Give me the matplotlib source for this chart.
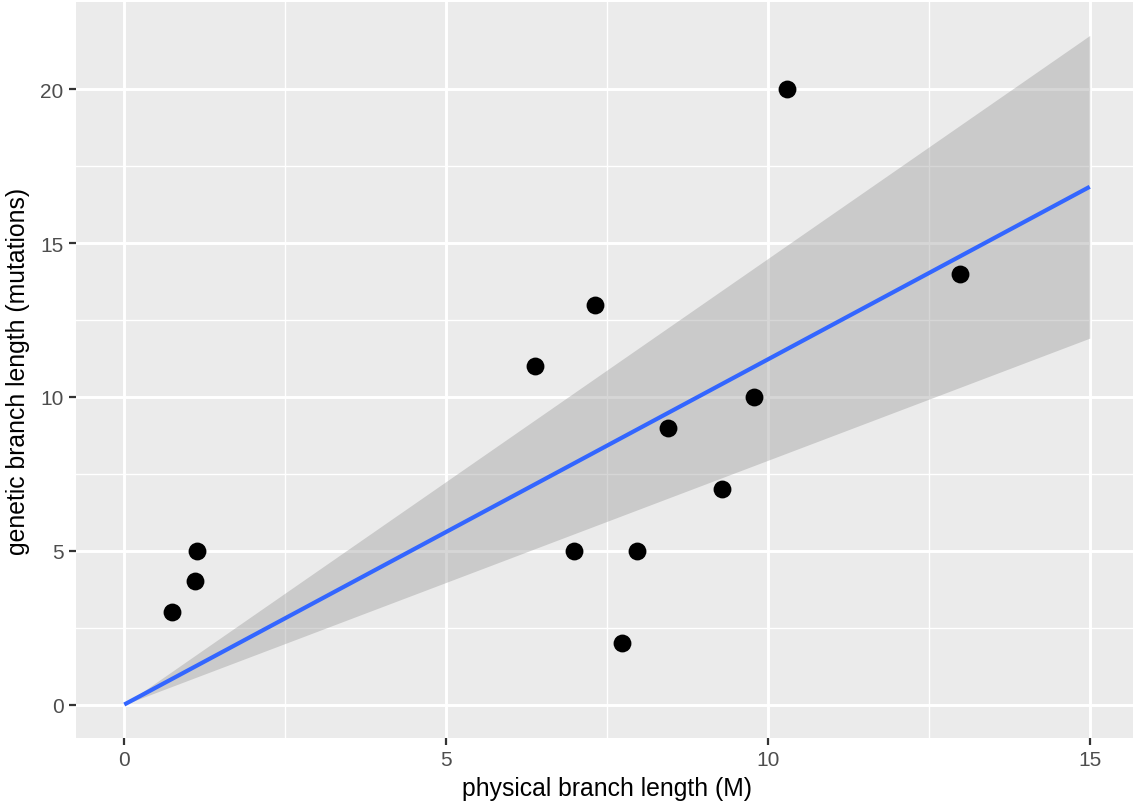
import numpy as np
import matplotlib
matplotlib.use("Agg")
import matplotlib.pyplot as plt

# Observed branch lengths
physical_length = [0.745, 1.10, 1.13, 6.38, 7.31, 6.99, 7.73, 7.97, 8.45, 9.29, 9.78, 10.30, 12.98]
genetic_length = [3, 4, 5, 11, 13, 5, 2, 5, 9, 7, 10, 20, 14]

x_ticks = [0, 5, 10, 15]
y_ticks = [0, 5, 10, 15, 20]

x = np.array(physical_length, dtype=float)
y = np.array(genetic_length, dtype=float)

# Linear fit through the origin (y ~ 0 + x) with 95% confidence band
slope = np.sum(x * y) / np.sum(x * x)
resid = y - slope * x
n = len(x)
s2 = np.sum(resid ** 2) / (n - 1)
se_slope = np.sqrt(s2 / np.sum(x * x))
t_crit = 2.178813  # t quantile, 0.975, df = 12

xs = np.linspace(0, 15, 200)
fit = slope * xs
band = t_crit * se_slope * xs

plt.rcParams["font.family"] = ["Liberation Sans", "DejaVu Sans"]

fig = plt.figure(figsize=(11.33, 8.03), dpi=100)
ax = fig.add_axes([76 / 1133, 1 - 739 / 803, (1138 - 76) / 1133, (739 - 3) / 803])
ax.set_facecolor("#EBEBEB")

ax.set_xlim(-0.75, 15.75)
ymax = (slope + t_crit * se_slope) * 15
ax.set_ylim(-0.05 * ymax, ymax * 1.05)

ax.set_xticks(x_ticks)
ax.set_yticks(y_ticks)
ax.set_xticks([2.5, 7.5, 12.5], minor=True)
ax.set_yticks([2.5, 7.5, 12.5, 17.5], minor=True)
ax.grid(which="major", color="white", linewidth=2.1)
ax.grid(which="minor", color="white", linewidth=1.0)
ax.set_axisbelow(True)

for sp in ax.spines.values():
    sp.set_visible(False)

ax.tick_params(which="major", length=5, width=1.6, color="#333333",
               labelsize=15, labelcolor="#4D4D4D", pad=4)
ax.tick_params(which="minor", length=0)

ax.fill_between(xs, fit - band, fit + band, color="#999999", alpha=0.4,
                linewidth=0, zorder=2)
ax.plot(xs, fit, color="#3366FF", linewidth=3.0, zorder=3, solid_capstyle="butt")
ax.scatter(x, y, s=165, color="black", zorder=4, linewidths=0)

ax.set_xlabel("physical branch length (M)", fontsize=17.8, color="black", labelpad=5)
ax.set_ylabel("genetic branch length (mutations)", fontsize=17.8, color="black", labelpad=7)

fig.savefig("out.png", dpi=100)
